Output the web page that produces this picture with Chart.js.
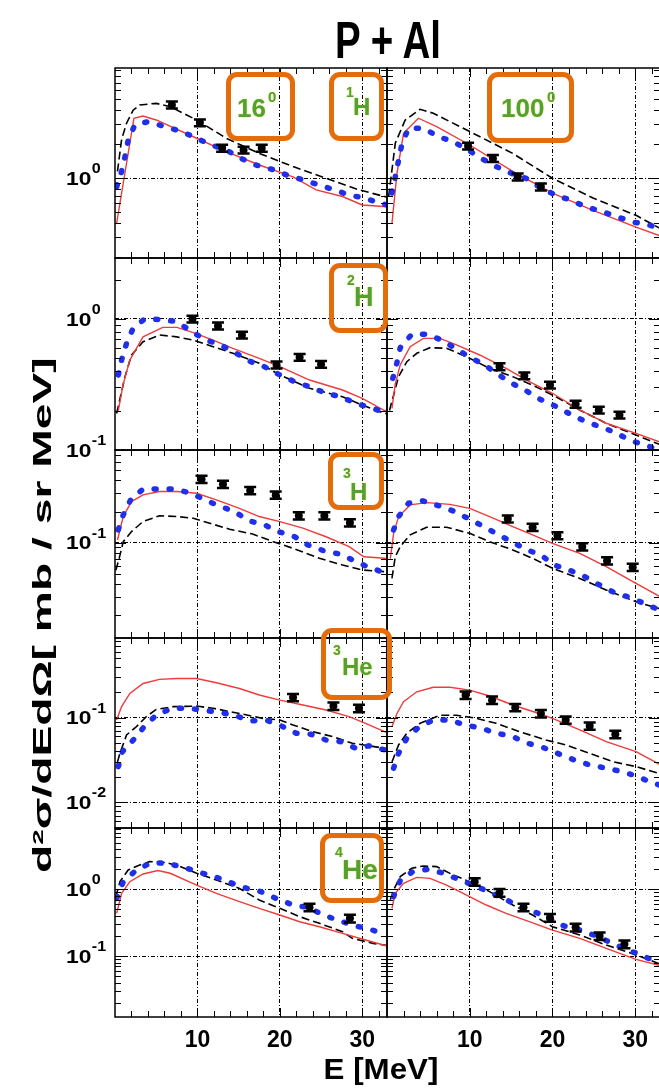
<!DOCTYPE html>
<html>
<head>
<meta charset="utf-8">
<script src="https://cdn.jsdelivr.net/npm/chart.js@4.4.1/dist/chart.umd.min.js"></script>
<style>
html, body { margin: 0; padding: 0; width: 659px; height: 1089px; overflow: hidden; background: #fff; }
canvas { position: absolute; }
.txt { position: absolute; font-family: "Liberation Sans", Arial, sans-serif; font-weight: bold; line-height: 1; white-space: nowrap; color: #000; }
.tag { position: absolute; font-family: "Liberation Sans", Arial, sans-serif; font-weight: bold; line-height: 1; white-space: nowrap; color: #55a030; text-shadow: 0 0 2px #d9ea6a; }
.box { position: absolute; box-sizing: border-box; border: 5px solid #e46c0a; border-radius: 11px; }
</style>
</head>
<body>
<script>
// Axis values
const ENERGY_TICKS = [10, 20, 30];
const ENERGY_MIN = 0;
const ENERGY_MAX = 33;
const Y_MIN = [0.197, 0.1, 0.0119, 0.005, 0.0122];
const Y_MAX = [9.46, 2.92, 0.79, 0.87, 8.3];
const Y_DECADES = [[1], [1, 0.1], [0.1], [0.1, 0.01], [1, 0.1]];
const ERR_FRAC = [0.07, 0.06, 0.08, 0.1, 0.13];

// [E (MeV), d2sigma/dEdOmega (mb/sr MeV)] -- 1H
const h1_16_dash = [[0.3,1.15],[0.8,2.2],[1.4,3.07],[2.2,4.0],[3,4.46],[5,4.6],[6.7,4.3],[9.9,3.28],[13.5,2.26],[17.5,1.66],[21.6,1.27],[25.6,1.0],[29.6,0.79],[32.7,0.69],[33,0.68]];
const h1_16_red = [[0.2,0.4],[2.3,3.4],[3.4,3.56],[5,3.28],[9.9,2.26],[13.5,1.72],[17.5,1.31],[21.6,1.03],[24.4,0.79],[27.6,0.69],[30,0.58],[33,0.56]];
const h1_16_blue = [[0.2,0.84],[0.8,1.15],[1.2,1.55],[1.6,2.18],[2.4,2.96],[4,3.17],[6,2.87],[8.1,2.59],[9.9,2.26],[11.7,1.97],[13.5,1.78],[15.3,1.5],[17.1,1.31],[19.2,1.19],[20.8,1.07],[22.8,0.97],[24.8,0.87],[26.6,0.79],[28.4,0.71],[30.2,0.67],[32.3,0.6],[33,0.58]];
const h1_16_exp = [[6.9,4.46],[10.3,3.1],[13,1.85],[15.6,1.78],[17.8,1.85]];
const h1_100_dash = [[0.2,0.69],[1,2.04],[2.2,3.28],[4,4.08],[5.6,3.76],[10,2.59],[15.2,1.66],[20,1.0],[24.9,0.67],[30.1,0.47],[33,0.36]];
const h1_100_red = [[0.6,0.4],[1.2,1.1],[2,2.5],[3.8,3.4],[6,2.87],[10,1.97],[15.2,1.15],[20,0.74],[24.9,0.52],[30.1,0.37],[33,0.31]];
const h1_100_blue = [[0.6,0.74],[1,1.03],[1.4,1.45],[1.8,2.01],[2.6,2.77],[4.4,2.77],[6.2,2.34],[8,2.11],[9.8,1.78],[11.4,1.5],[13.2,1.27],[15,1.11],[16.8,1.0],[18.6,0.82],[20.4,0.71],[22.2,0.64],[24,0.56],[25.9,0.51],[27.7,0.46],[29.7,0.41],[31.5,0.39],[33,0.36]];
const h1_100_exp = [[9.8,1.93],[12.8,1.5],[15.8,1.03],[18.6,0.84]];

// 2H
const h2_16_dash = [[0.2,0.19],[1.2,0.36],[2,0.53],[3.4,0.67],[5.4,0.755],[7.5,0.73],[9.5,0.69],[11.9,0.615],[14.3,0.547],[17.5,0.46],[20,0.374],[23.6,0.296],[27.6,0.255],[30,0.22],[32.7,0.19],[33,0.19]];
const h2_16_red = [[0.4,0.2],[1,0.32],[1.8,0.486],[3.4,0.73],[5.8,0.863],[7.5,0.863],[9.5,0.787],[11.9,0.69],[14.3,0.597],[17.5,0.5],[20,0.433],[23.6,0.342],[27.6,0.287],[30,0.248],[32.7,0.2],[33,0.2]];
const h2_16_blue = [[0.4,0.374],[0.8,0.486],[1.4,0.652],[2.2,0.849],[3.6,1.0],[5.6,0.99],[7.5,0.955],[9.3,0.8],[11.1,0.69],[12.9,0.63],[14.7,0.547],[16.5,0.472],[18.1,0.433],[20,0.374],[21.8,0.332],[23.6,0.304],[25.6,0.271],[27.4,0.255],[29.2,0.227],[31.3,0.208],[33,0.19]];
const h2_16_exp = [[9.4,1.0],[12.5,0.885],[15.4,0.755],[19.6,0.446],[22.4,0.51],[25,0.451]];
const h2_100_dash = [[0.3,0.2],[1.4,0.363],[2.4,0.472],[3.6,0.547],[5.2,0.604],[7.2,0.597],[9.6,0.516],[12.4,0.42],[15.2,0.363],[18,0.304],[20.4,0.255],[23.3,0.202],[26.5,0.16],[30.1,0.13],[33,0.11]];
const h2_100_red = [[0.6,0.208],[1,0.32],[1.6,0.446],[2.8,0.615],[4.4,0.711],[6.4,0.711],[8.4,0.634],[11.2,0.531],[14.4,0.42],[17.2,0.332],[20,0.271],[23.3,0.202],[26.5,0.16],[30.1,0.134],[33,0.115]];
const h2_100_blue = [[0.7,0.352],[1.2,0.464],[1.6,0.604],[3,0.764],[4.9,0.764],[6.6,0.69],[8.4,0.59],[10,0.51],[11.8,0.446],[13.4,0.378],[15.1,0.323],[16.8,0.284],[18.5,0.244],[20.3,0.217],[22,0.19],[23.9,0.166],[25.7,0.151],[27.6,0.136],[29.3,0.119],[31.2,0.109],[33,0.1]];
const h2_100_exp = [[13.6,0.433],[16.6,0.369],[19.7,0.313],[22.8,0.224],[25.6,0.202],[28.1,0.185]];

// 3H
const h3_16_dash = [[0.1,0.054],[0.5,0.07],[1,0.102],[2,0.128],[3.4,0.16],[5.4,0.182],[7.5,0.179],[9.5,0.172],[11.5,0.154],[13.9,0.135],[16.7,0.121],[19.2,0.102],[21.6,0.088],[24.8,0.0705],[27.6,0.0607],[30,0.0543],[32.7,0.0523],[33,0.052]];
const h3_16_red = [[0.3,0.106],[1,0.179],[2,0.25],[3.4,0.29],[5.4,0.313],[7.5,0.313],[9.9,0.301],[12.3,0.26],[15.1,0.215],[17.5,0.179],[20,0.16],[22.8,0.138],[25.6,0.114],[28.4,0.0914],[30.2,0.073],[32.7,0.0705],[33,0.07]];
const h3_16_blue = [[0.4,0.133],[1,0.186],[1.9,0.26],[3.4,0.33],[5.3,0.33],[7.3,0.33],[9.2,0.301],[10.9,0.26],[12.8,0.224],[14.5,0.2],[16.3,0.162],[18.1,0.149],[19.8,0.128],[21.8,0.114],[23.4,0.095],[25.4,0.083],[27.4,0.077],[28.8,0.068],[30.6,0.0585],[32.4,0.052],[33,0.05]];
const h3_16_exp = [[10.5,0.412],[13.1,0.368],[16.4,0.32],[19.5,0.29],[22.3,0.182],[25.4,0.182],[28.5,0.156]];
const h3_100_dash = [[0.6,0.045],[1,0.073],[1.6,0.0914],[2.8,0.119],[4.8,0.141],[7.2,0.141],[10,0.123],[12.4,0.102],[15.2,0.085],[17.6,0.0705],[20,0.0564],[23.3,0.045],[26.5,0.0347],[30.1,0.0267],[33,0.0228]];
const h3_100_red = [[0.4,0.07],[0.8,0.123],[1.4,0.179],[2.8,0.232],[4.8,0.244],[7.6,0.235],[10,0.215],[12.4,0.179],[15.2,0.143],[17.6,0.119],[20,0.0985],[23.3,0.0787],[26.5,0.0585],[30.1,0.0403],[33,0.03]];
const h3_100_blue = [[0.8,0.133],[1.4,0.179],[2.6,0.241],[4.3,0.254],[6.3,0.227],[8.2,0.2],[9.9,0.17],[11.7,0.143],[13.3,0.121],[15.1,0.102],[16.8,0.086],[18.6,0.0759],[20.2,0.0607],[22,0.0543],[23.9,0.0468],[25.7,0.0388],[27.5,0.0327],[29.1,0.0299],[30.9,0.0261],[32.5,0.023],[33,0.0225]];
const h3_100_exp = [[14.6,0.17],[17.6,0.141],[20.6,0.117],[23.6,0.0914],[26.6,0.0668],[29.7,0.0577]];

// 3He
const he3_16_dash = [[0.3,0.03],[0.6,0.038],[1.4,0.0625],[2.6,0.0783],[3.8,0.103],[5,0.125],[7.1,0.135],[9.9,0.137],[11.9,0.129],[15.1,0.112],[17.9,0.0982],[20,0.094],[21.6,0.082],[24,0.0684],[26.4,0.0598],[28.8,0.0499],[32.7,0.0436],[33,0.043]];
const he3_16_red = [[0.2,0.094],[0.8,0.135],[1.8,0.193],[3.4,0.253],[5.4,0.283],[7.5,0.29],[9.9,0.29],[12.3,0.258],[15.1,0.221],[17.5,0.185],[20,0.161],[22.8,0.141],[25.6,0.123],[28.4,0.103],[30.4,0.0858],[32.7,0.0684],[33,0.067]];
const he3_16_blue = [[0.4,0.0265],[0.9,0.0398],[2.4,0.0571],[3.6,0.0798],[5,0.107],[6.9,0.129],[8.7,0.129],[10.7,0.123],[12.7,0.115],[14.5,0.107],[16.4,0.0914],[18.3,0.094],[20.2,0.0798],[22,0.0655],[23.8,0.0637],[25.6,0.0546],[27.4,0.0522],[29.2,0.0436],[30.8,0.0465],[32.7,0.0417],[33,0.041]];
const he3_16_exp = [[21.6,0.173],[26.5,0.137],[29.6,0.129]];
const he3_100_dash = [[0.6,0.03],[1.4,0.0477],[2.4,0.0655],[4,0.0858],[6.4,0.107],[8.4,0.107],[10.8,0.0982],[13.2,0.0858],[16,0.0684],[19.2,0.0546],[21.6,0.0477],[24.5,0.038],[27.3,0.0303],[30.1,0.0265],[33,0.0218]];
const he3_100_red = [[0.6,0.0783],[1.2,0.112],[2,0.154],[3.6,0.202],[5.6,0.228],[7.6,0.228],[10,0.211],[12.4,0.18],[15.2,0.141],[18,0.115],[20,0.0982],[23.3,0.0716],[26.5,0.0522],[30.1,0.0398],[33,0.028]];
const he3_100_blue = [[0.8,0.0254],[1.4,0.038],[2.4,0.0571],[3.9,0.0783],[5.6,0.094],[7.5,0.094],[9.5,0.082],[11.4,0.075],[13.3,0.0655],[15.2,0.0598],[17,0.0499],[18.8,0.0448],[20.6,0.038],[22.6,0.0318],[24.5,0.0277],[26.5,0.0254],[28.3,0.0232],[30.1,0.0206],[31.9,0.0173],[33,0.016]];
const he3_100_exp = [[9.5,0.185],[12.7,0.161],[15.5,0.132],[18.6,0.112],[21.6,0.094],[24.5,0.0798],[27.6,0.0637]];

// 4He
const he4_16_dash = [[0.1,0.776],[0.6,1.3],[1.6,1.95],[3,2.32],[4.2,2.6],[6.3,2.51],[7.9,2.19],[9.9,1.74],[12.3,1.38],[15.1,1.03],[17.5,0.692],[20,0.519],[22.4,0.389],[24.8,0.309],[27.6,0.232],[28.8,0.184],[31.3,0.155],[32.7,0.146],[33,0.144]];
const he4_16_red = [[0.2,0.437],[0.8,0.871],[1.8,1.3],[3.4,1.7],[5.2,1.91],[6.7,1.74],[9.9,1.16],[12.3,0.871],[15.1,0.653],[17.5,0.519],[20,0.412],[22.4,0.327],[24.8,0.275],[27.6,0.219],[30.4,0.174],[33,0.141]];
const he4_16_blue = [[0.2,0.733],[1,1.3],[2.6,1.95],[4.4,2.51],[6.3,2.45],[8.5,2.11],[10.3,1.78],[12.1,1.55],[14,1.26],[16,1.03],[17.7,0.923],[19.7,0.716],[21.6,0.582],[23.4,0.537],[25.3,0.412],[27.2,0.339],[29.2,0.282],[31,0.251],[32.9,0.207]];
const he4_16_exp = [[23.6,0.537],[28.5,0.367]];
const he4_100_dash = [[0.4,0.7],[0.8,0.977],[1.6,1.55],[3,2.07],[4.4,2.24],[6,2.19],[8,1.64],[10,1.3],[12.4,0.923],[15.2,0.582],[17.6,0.412],[20,0.275],[23.3,0.207],[26.5,0.146],[30.1,0.104],[33,0.076]];
const he4_100_red = [[0.6,0.519],[1,0.871],[2,1.23],[3.6,1.51],[5.2,1.46],[7.2,1.16],[9.2,0.871],[12,0.582],[14.4,0.437],[17.2,0.327],[20,0.245],[23.3,0.184],[26.5,0.13],[30.1,0.0891],[33,0.072]];
const he4_100_blue = [[0.8,0.776],[1.6,1.35],[3.1,1.84],[5,2.0],[6.9,1.74],[8.8,1.38],[10.6,1.14],[12.4,0.902],[14.1,0.733],[16,0.55],[17.8,0.462],[19.6,0.367],[21.4,0.282],[23.3,0.245],[25.3,0.2],[27.1,0.158],[28.9,0.126],[30.7,0.104],[32.5,0.0822],[33,0.078]];
const he4_100_exp = [[10.6,1.3],[13.6,0.891],[16.5,0.537],[19.7,0.376],[22.8,0.269],[25.7,0.2],[28.7,0.151]];

const PANELS = [
    [{ dash: h1_16_dash, red: h1_16_red, blue: h1_16_blue, exp: h1_16_exp }, { dash: h1_100_dash, red: h1_100_red, blue: h1_100_blue, exp: h1_100_exp }],
    [{ dash: h2_16_dash, red: h2_16_red, blue: h2_16_blue, exp: h2_16_exp }, { dash: h2_100_dash, red: h2_100_red, blue: h2_100_blue, exp: h2_100_exp }],
    [{ dash: h3_16_dash, red: h3_16_red, blue: h3_16_blue, exp: h3_16_exp }, { dash: h3_100_dash, red: h3_100_red, blue: h3_100_blue, exp: h3_100_exp }],
    [{ dash: he3_16_dash, red: he3_16_red, blue: he3_16_blue, exp: he3_16_exp }, { dash: he3_100_dash, red: he3_100_red, blue: he3_100_blue, exp: he3_100_exp }],
    [{ dash: he4_16_dash, red: he4_16_red, blue: he4_16_blue, exp: he4_16_exp }, { dash: he4_100_dash, red: he4_100_red, blue: he4_100_blue, exp: he4_100_exp }]
];

// Layout (page pixels)
const ROW_EDGES = [68, 258, 450, 638, 828, 1017];
const PAD = 14;
const FONT = '"Liberation Sans", Arial, sans-serif';
// per column: canvas left, canvas width, padding left, y axis width, padding right
const COLUMN_BOXES = [
    { left: 0, width: 389, padLeft: 0, axis: 115, padRight: 2 },
    { left: 386, width: 276, padLeft: 1, axis: 0, padRight: 2 }
];

const toXY = pts => pts.map(([x, y]) => ({ x, y }));

function makeFrame(row, col) {
    return {
        id: 'frame',
        afterDatasetsDraw(chart) {
            const { ctx, chartArea: a, scales: { x, y } } = chart;
            ctx.save();
            ctx.strokeStyle = '#000';

            // error bars on the measured points
            const meta = chart.getDatasetMeta(0);
            const pts = chart.data.datasets[0].data;
            meta.data.forEach((el, i) => {
                const v = pts[i].y;
                const top = y.getPixelForValue(v * (1 + ERR_FRAC[row]));
                const bot = y.getPixelForValue(v * (1 - ERR_FRAC[row]));
                ctx.lineWidth = 2;
                ctx.beginPath(); ctx.moveTo(el.x, top); ctx.lineTo(el.x, bot); ctx.stroke();
                ctx.lineWidth = 2.5;
                ctx.beginPath();
                ctx.moveTo(el.x - 6, top); ctx.lineTo(el.x + 6, top);
                ctx.moveTo(el.x - 6, bot); ctx.lineTo(el.x + 6, bot);
                ctx.stroke();
            });

            // inner tick marks on all four sides
            ctx.lineWidth = 1;
            ctx.beginPath();
            for (let e = 2; e < ENERGY_MAX; e += 2) {
                const px = Math.round(x.getPixelForValue(e)) + 0.5;
                const len = e % 10 === 0 ? 9 : 6;
                ctx.moveTo(px, a.top); ctx.lineTo(px, a.top + len);
                ctx.moveTo(px, a.bottom); ctx.lineTo(px, a.bottom - len);
            }
            const kLo = Math.floor(Math.log10(Y_MIN[row]));
            const kHi = Math.ceil(Math.log10(Y_MAX[row]));
            for (let k = kLo; k <= kHi; k++) {
                for (let m = 1; m <= 9; m++) {
                    const v = m * Math.pow(10, k);
                    if (v < Y_MIN[row] || v > Y_MAX[row]) continue;
                    const py = Math.round(y.getPixelForValue(v)) + 0.5;
                    const len = m === 1 ? 11 : 6;
                    ctx.moveTo(a.left, py); ctx.lineTo(a.left + len, py);
                    ctx.moveTo(a.right, py); ctx.lineTo(a.right - len, py);
                }
            }
            ctx.stroke();

            ctx.lineWidth = 1.5;
            ctx.strokeRect(a.left, a.top, a.right - a.left, a.bottom - a.top);

            ctx.fillStyle = '#000';
            ctx.textBaseline = 'alphabetic';
            ctx.textAlign = 'left';
            if (col === 0) {
                Y_DECADES[row].forEach(v => {
                    const py = y.getPixelForValue(v);
                    const exp = String(Math.round(Math.log10(v)));
                    ctx.font = 'bold 19px ' + FONT;
                    const w = ctx.measureText('10').width * 1.2;
                    ctx.save(); ctx.translate(66, py + 6.7); ctx.scale(1.2, 1); ctx.fillText('10', 0, 0); ctx.restore();
                    ctx.font = 'bold 14px ' + FONT;
                    ctx.save(); ctx.translate(66 + w + 0.5, py - 5); ctx.scale(1.15, 1); ctx.fillText(exp, 0, 0); ctx.restore();
                });
            }
            if (row === 4) {
                ctx.font = 'bold 23px ' + FONT;
                ctx.textAlign = 'center';
                ENERGY_TICKS.forEach(v => ctx.fillText(String(v), x.getPixelForValue(v), a.bottom + 30));
            }
            ctx.restore();
        }
    };
}

function buildPanel(row, col) {
    const set = PANELS[row][col];
    const box = COLUMN_BOXES[col];
    const padBottom = row === 4 ? 45 : PAD;
    const height = ROW_EDGES[row + 1] - ROW_EDGES[row] + PAD + padBottom;

    const canvas = document.createElement('canvas');
    canvas.width = box.width;
    canvas.height = height;
    canvas.style.left = box.left + 'px';
    canvas.style.top = (ROW_EDGES[row] - PAD) + 'px';
    canvas.style.width = box.width + 'px';
    canvas.style.height = height + 'px';
    document.body.appendChild(canvas);

    const gridOpts = { color: '#000', lineWidth: 1, drawTicks: false };
    const borderOpts = { display: false, dash: [4, 2, 1, 2] };

    new Chart(canvas, {
        type: 'scatter',
        data: {
            datasets: [
                { data: toXY(set.exp), showLine: false, pointRadius: 4, pointBackgroundColor: '#000', pointBorderColor: '#000', pointBorderWidth: 0 },
                { data: toXY(set.blue), showLine: true, borderColor: '#1f2fea', borderWidth: 5.5, borderDash: [2, 13], borderCapStyle: 'round', pointRadius: 0 },
                { data: toXY(set.red), showLine: true, borderColor: '#ee3b3b', borderWidth: 1.4, pointRadius: 0 },
                { data: toXY(set.dash), showLine: true, borderColor: '#000', borderWidth: 1.6, borderDash: [8, 4], pointRadius: 0 }
            ]
        },
        options: {
            responsive: false,
            animation: false,
            events: [],
            devicePixelRatio: 1,
            layout: { autoPadding: false, padding: { left: box.padLeft, right: box.padRight, top: PAD, bottom: padBottom } },
            plugins: { legend: { display: false }, tooltip: { enabled: false } },
            scales: {
                x: {
                    type: 'linear', min: ENERGY_MIN, max: ENERGY_MAX,
                    afterBuildTicks: s => { s.ticks = ENERGY_TICKS.map(v => ({ value: v })); },
                    afterFit: s => { s.height = 0; },
                    ticks: { display: false },
                    grid: gridOpts, border: borderOpts
                },
                y: {
                    type: 'logarithmic', min: Y_MIN[row], max: Y_MAX[row],
                    afterBuildTicks: s => { s.ticks = Y_DECADES[row].map(v => ({ value: v })); },
                    afterFit: s => { s.width = box.axis; },
                    ticks: { display: false },
                    grid: gridOpts, border: borderOpts
                }
            }
        },
        plugins: [makeFrame(row, col)]
    });
}

for (let r = 0; r < 5; r++) {
    buildPanel(r, 0);
    buildPanel(r, 1);
}

// Titles
function addText(html, size, css) {
    const el = document.createElement('div');
    el.className = 'txt';
    el.innerHTML = html;
    el.style.fontSize = size + 'px';
    Object.assign(el.style, css);
    document.body.appendChild(el);
    return el;
}

addText('P + Al', 52, { left: '388px', top: (58 - 0.8465 * 52) + 'px', transform: 'translateX(-50%) scaleX(0.74)' });
addText('E [MeV]', 29, { left: '381px', top: (1080 - 0.8465 * 29) + 'px', transform: 'translateX(-50%) scaleX(1.08)' });

const yTitle = addText('d<span style="font-size:0.6em;position:relative;top:-0.55em">2</span>σ/dEdΩ[ mb / sr MeV]', 25, {});
const stretch = 516 / yTitle.offsetWidth;
yTitle.style.left = (51 - 0.8465 * 25) + 'px';
yTitle.style.top = '873px';
yTitle.style.transformOrigin = '0 0';
yTitle.style.transform = 'rotate(-90deg) scaleX(' + stretch + ')';

// Panel tags
function addTag(text, x, baseline, size) {
    const s = document.createElement('span');
    s.className = 'tag';
    s.textContent = text;
    s.style.fontSize = size + 'px';
    s.style.left = x + 'px';
    s.style.top = (baseline - 0.8465 * size) + 'px';
    document.body.appendChild(s);
}
addTag('16', 237, 117, 26); addTag('0', 268, 102, 15);
addTag('1', 346, 97, 14); addTag('H', 353, 115, 24);
addTag('100', 501, 117, 26); addTag('0', 547, 102, 15);
addTag('2', 347, 285, 14); addTag('H', 354, 307, 27);
addTag('3', 343, 478, 14); addTag('H', 350, 500, 24);
addTag('3', 333, 655, 14); addTag('He', 342, 675, 24);
addTag('4', 335, 857, 14); addTag('He', 342, 880, 28);

const BOXES = [[226, 72, 69, 69], [329, 72, 55, 69], [487, 72, 87, 71], [329, 263, 59, 70], [328, 452, 56, 58], [321, 628, 71, 72], [320, 833, 64, 70]];
BOXES.forEach(([l, t, w, h]) => {
    const b = document.createElement('div');
    b.className = 'box';
    Object.assign(b.style, { left: l + 'px', top: t + 'px', width: w + 'px', height: h + 'px' });
    document.body.appendChild(b);
});
</script>
</body>
</html>
